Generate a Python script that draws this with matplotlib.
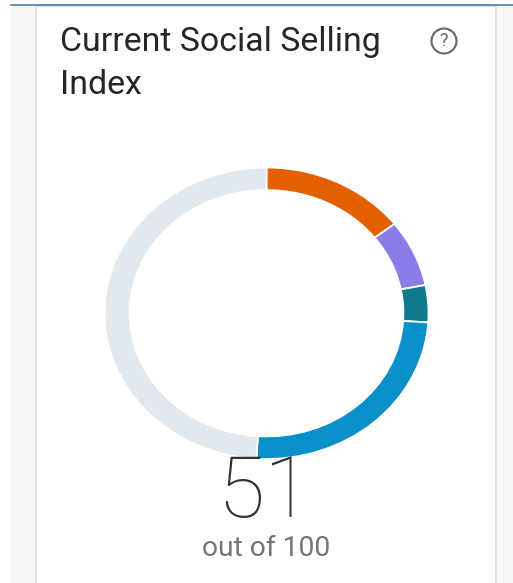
import matplotlib
matplotlib.use('Agg')
import matplotlib.pyplot as plt
from matplotlib.patches import Rectangle, Ellipse

W, H = 513, 583

# slices clockwise from the top, out of 100
labels = ['orange', 'purple', 'teal', 'blue', 'rest']
values = [14.5, 7.4, 4.1, 25.0, 49.0]
colors = ['#e35f00', '#8b7de8', '#0e7a8a', '#0a90c8', '#e1e8ee']

title_lines = ['Current Social Selling', 'Index']
score = '51'
score_note = 'out of 100'

plt.rcParams['font.family'] = ['Roboto', 'DejaVu Sans']

fig = plt.figure(figsize=(W / 100, H / 100), dpi=100, facecolor='white')

# background in pixel coordinates
bg = fig.add_axes([0, 0, 1, 1])
bg.set_xlim(0, W)
bg.set_ylim(H, 0)
bg.axis('off')
bg.add_patch(Rectangle((11, 6), W - 11, H - 6, fc='#f6f6f7', ec='none'))
bg.add_patch(Rectangle((36, 6), 460, H + 10, fc='white', ec='#dddddd', lw=1.2))
bg.plot([11, W], [5, 5], color='#4f7ba6', lw=1.2)

# ring: stretched wider than tall, axes box is the ring's bounding box
left, right, top, bottom = 104.5, 428.5, 167.5, 459
ax = fig.add_axes([left / W, 1 - bottom / H, (right - left) / W, (bottom - top) / H])
ax.patch.set_visible(False)
ax.pie(values, colors=colors, startangle=90, counterclock=False, radius=1,
       wedgeprops=dict(width=0.155, edgecolor='white', linewidth=1.3))
ax.set_aspect('auto')
ax.set_xlim(-1, 1)
ax.set_ylim(-1, 1)

# everything written goes on a top layer so the ring axes cannot cover it
top_ax = fig.add_axes([0, 0, 1, 1])
top_ax.set_xlim(0, W)
top_ax.set_ylim(H, 0)
top_ax.axis('off')

# title and help icon
top_ax.text(60, 42.5, title_lines[0], fontsize=24.4, color='#262626', va='center', ha='left')
top_ax.text(60, 84.5, title_lines[1], fontsize=24.4, color='#262626', va='center', ha='left')
top_ax.add_patch(Ellipse((444, 41), 25, 25, fc='none', ec='#666666', lw=1.5))
top_ax.text(444, 41, '?', fontsize=13, color='#666666', va='center', ha='center')

# score
top_ax.text(264, 517, score, fontsize=62, fontweight='light', color='#333333', va='baseline', ha='center')
top_ax.text(266, 548, score_note, fontsize=20.3, color='#757575', va='center', ha='center')

fig.savefig('out.png', dpi=100)
